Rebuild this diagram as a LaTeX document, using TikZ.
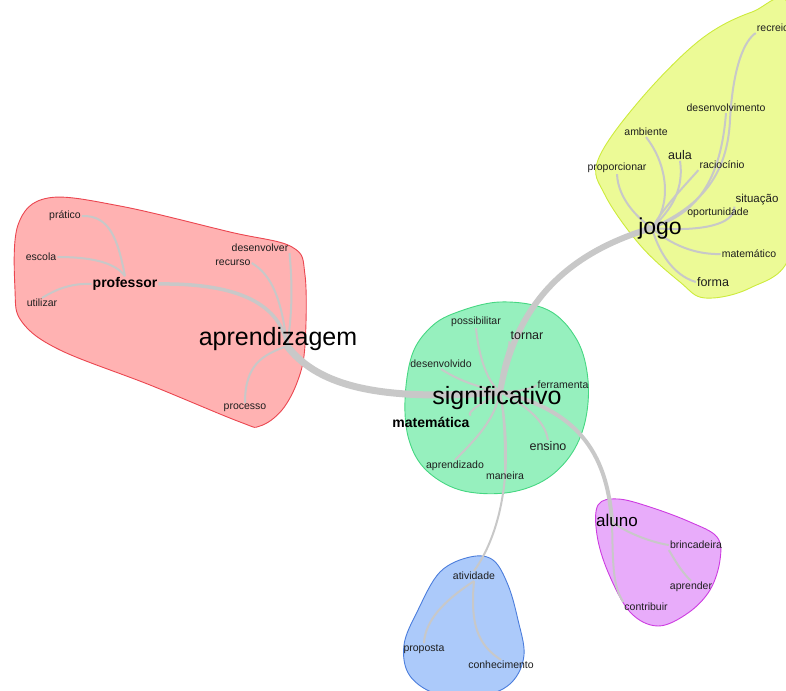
\documentclass[tikz,border=0pt]{standalone}
\usepackage{fontspec}
\setmainfont{Liberation Sans}
\usetikzlibrary{backgrounds}

\definecolor{redfill}{RGB}{255,178,178}
\definecolor{redline}{RGB}{235,70,80}
\definecolor{greenfill}{RGB}{150,240,190}
\definecolor{greenline}{RGB}{70,215,130}
\definecolor{yellowfill}{RGB}{236,250,150}
\definecolor{yellowline}{RGB}{205,235,60}
\definecolor{pinkfill}{RGB}{232,172,250}
\definecolor{pinkline}{RGB}{205,60,225}
\definecolor{bluefill}{RGB}{172,202,250}
\definecolor{blueline}{RGB}{75,125,220}
\definecolor{linkgray}{RGB}{200,200,200}
\definecolor{wordink}{RGB}{30,30,30}

\tikzset{
  word/.style={font=\fontsize{10.5}{12}\selectfont, text=wordink, inner sep=1pt},
  midword/.style={font=\fontsize{12.5}{14}\selectfont, text=wordink, inner sep=1pt},
  bigword/.style={font=\fontsize{25}{28}\selectfont, text=black, inner sep=1pt},
  boldword/.style={font=\bfseries\fontsize{14}{16}\selectfont, text=black, inner sep=1pt},
  link/.style={draw=linkgray, line width=2pt},
  midlink/.style={draw=linkgray, line width=3.5pt},
  fatlink/.style={draw=linkgray, line width=7pt},
  blob/.style={line width=0.9pt, smooth cycle, tension=0.6},
}

\begin{document}
\begin{tikzpicture}[x=1pt, y=-1pt, line cap=round, line join=round]
  \useasboundingbox (0,0) rectangle (786,690);

  % professor / aprendizagem
  \node[bigword]  (aprendizagem) at (278,339) {aprendizagem};
  \node[boldword] (professor)    at (125,284) {professor};
  \node[word]     (pratico)      at (65,216)  {prático};
  \node[word]     (escola)       at (41,257)  {escola};
  \node[word]     (utilizar)     at (42,303)  {utilizar};
  \node[word]     (desenvolver)  at (260,248) {desenvolver};
  \node[word]     (recurso)      at (233,263) {recurso};
  \node[word]     (processo)     at (245,408) {processo};

  % significativo
  \node[bigword]  (significativo) at (497,398) {significativo};
  \node[boldword] (matematica)    at (431,422) {matemática};
  \node[word]     (possibilitar)  at (476,322) {possibilitar};
  \node[midword]  (tornar)        at (527,336) {tornar};
  \node[word]     (desenvolvido)  at (441,364) {desenvolvido};
  \node[word]     (ferramenta)    at (563,385) {ferramenta};
  \node[midword]  (ensino)        at (548,446) {ensino};
  \node[word]     (aprendizado)   at (455,466) {aprendizado};
  \node[word]     (maneira)       at (505,476) {maneira};

  % jogo
  \node[font=\fontsize{23}{26}\selectfont, inner sep=1pt] (jogo) at (660,229) {jogo};
  \node[word]     (recreio)         at (773,28)  {recreio};
  \node[word]     (desenvolvimento) at (726,108) {desenvolvimento};
  \node[word]     (ambiente)        at (646,132) {ambiente};
  \node[midword]  (aula)            at (680,155) {aula};
  \node[word]     (raciocinio)      at (722,165) {raciocínio};
  \node[word]     (proporcionar)    at (617,168) {proporcionar};
  \node[font=\fontsize{11.5}{13}\selectfont, text=wordink, inner sep=1pt] (situacao) at (757,200) {situação};
  \node[word]     (oportunidade)    at (718,213) {oportunidade};
  \node[word]     (matematico)      at (749,254) {matemático};
  \node[midword]  (forma)           at (713,282) {forma};

  % aluno
  \node[font=\fontsize{17}{19}\selectfont, inner sep=1pt] (aluno) at (617,520) {aluno};
  \node[word] (brincadeira) at (696,545) {brincadeira};
  \node[word] (aprender)    at (691,587) {aprender};
  \node[word] (contribuir)  at (646,607) {contribuir};

  % atividade
  \node[word] (atividade)    at (474,576) {atividade};
  \node[word] (proposta)     at (424,649) {proposta};
  \node[word] (conhecimento) at (501,665) {conhecimento};

  \coordinate (aprhub) at (287,346);
  \coordinate (sighub) at (500,392);
  \coordinate (jogohub) at (652,228);
  \coordinate (aluhub) at (612,522);

  \begin{scope}[on background layer]
    % halos
    \draw[blob, fill=redfill, draw=redline] plot coordinates {
      (18,225) (48,198) (120,206) (230,232) (292,247) (305,275) (305,345)
      (298,380) (282,410) (260,426) (240,422) (150,385) (60,350) (22,322) (15,290)};
    \draw[blob, fill=greenfill, draw=greenline] plot coordinates {
      (455,313) (500,302) (548,310) (577,340) (588,380) (585,422) (570,456)
      (543,481) (505,493) (460,490) (426,470) (409,440) (405,400) (412,355) (430,328)};
    \draw[blob, fill=yellowfill, draw=yellowline] plot coordinates {
      (598,160) (640,100) (700,40) (752,12) (790,8) (795,150) (790,255)
      (750,288) (705,298) (680,282) (640,245) (605,195)};
    \draw[blob, fill=pinkfill, draw=pinkline] plot coordinates {
      (598,505) (618,499) (650,507) (690,522) (717,537) (720,560) (710,590)
      (688,613) (658,626) (630,612) (608,572) (597,535)};
    \draw[blob, fill=bluefill, draw=blueline] plot coordinates {
      (440,572) (470,557) (493,560) (508,585) (518,620) (524,655) (512,682)
      (485,695) (440,695) (410,676) (404,645) (418,610)};

    % links between classes
    \draw[fatlink] (aprhub) .. controls (315,382) and (370,403) .. (sighub);
    \draw[fatlink, line width=6pt] (sighub) .. controls (515,310) and (560,255) .. (jogohub);
    \draw[midlink, line width=4pt] (sighub) .. controls (575,410) and (607,450) .. (aluhub);
    \draw[link] (sighub) .. controls (515,470) and (500,535) .. (atividade.north);
    \draw[midlink] (professor.east) .. controls (230,283) and (280,300) .. (aprhub);

    % professor
    \draw[link] (professor.north) .. controls (118,240) and (110,215) .. (pratico.east);
    \draw[link] (escola.east) .. controls (90,257) and (115,262) .. (professor.north);
    \draw[link] (utilizar.north) .. controls (55,290) and (70,283) .. (professor.west);
    \draw[link] (aprhub) .. controls (293,310) and (292,280) .. (desenvolver.south east);
    \draw[link] (aprhub) .. controls (282,300) and (272,275) .. (recurso.east);
    \draw[link] (aprhub) .. controls (262,355) and (245,365) .. (processo.north);

    % significativo
    \draw[link] (sighub) .. controls (485,380) and (478,350) .. (possibilitar.south);
    \draw[link] (sighub) .. controls (470,385) and (455,378) .. (desenvolvido.south);
    \draw[link] (sighub) .. controls (500,365) and (510,350) .. (tornar.south west);
    \draw[link] (sighub) .. controls (520,392) and (535,388) .. (ferramenta.west);
    \draw[link] (sighub) .. controls (525,405) and (545,420) .. (ensino.north);
    \draw[link] (sighub) .. controls (495,420) and (475,440) .. (aprendizado.north);
    \draw[link] (sighub) .. controls (505,420) and (505,445) .. (maneira.north);
    \draw[link] (sighub) .. controls (485,402) and (465,412) .. (matematica.north east);

    % jogo
    \draw[link] (jogohub) .. controls (690,210) and (727,185) .. (730,120)
      .. controls (733,65) and (745,40) .. (recreio.south west);
    \draw[link] (jogohub) .. controls (690,215) and (720,190) .. (desenvolvimento.south);
    \draw[link] (jogohub) .. controls (672,205) and (668,165) .. (ambiente.south);
    \draw[link] (jogohub) .. controls (665,215) and (685,195) .. (aula.south);
    \draw[link] (jogohub) .. controls (665,205) and (690,180) .. (raciocinio.south west);
    \draw[link] (jogohub) .. controls (640,220) and (618,200) .. (proporcionar.south);
    \draw[link] (jogohub) .. controls (700,232) and (735,225) .. (situacao.south west);
    \draw[link] (jogohub) .. controls (665,240) and (690,255) .. (matematico.west);
    \draw[link] (jogohub) .. controls (658,250) and (672,275) .. (forma.west);

    % aluno
    \draw[link] (aluhub) .. controls (630,535) and (655,543) .. (brincadeira.west);
    \draw[link] (brincadeira.south west) .. controls (675,560) and (680,570) .. (aprender.north);
    \draw[link] (aluhub) .. controls (613,560) and (612,585) .. (contribuir.north west);

    % atividade
    \draw[link] (atividade.south) .. controls (445,600) and (425,620) .. (proposta.north);
    \draw[link] (atividade.south) .. controls (470,625) and (478,645) .. (conhecimento.north);
  \end{scope}
\end{tikzpicture}
\end{document}
